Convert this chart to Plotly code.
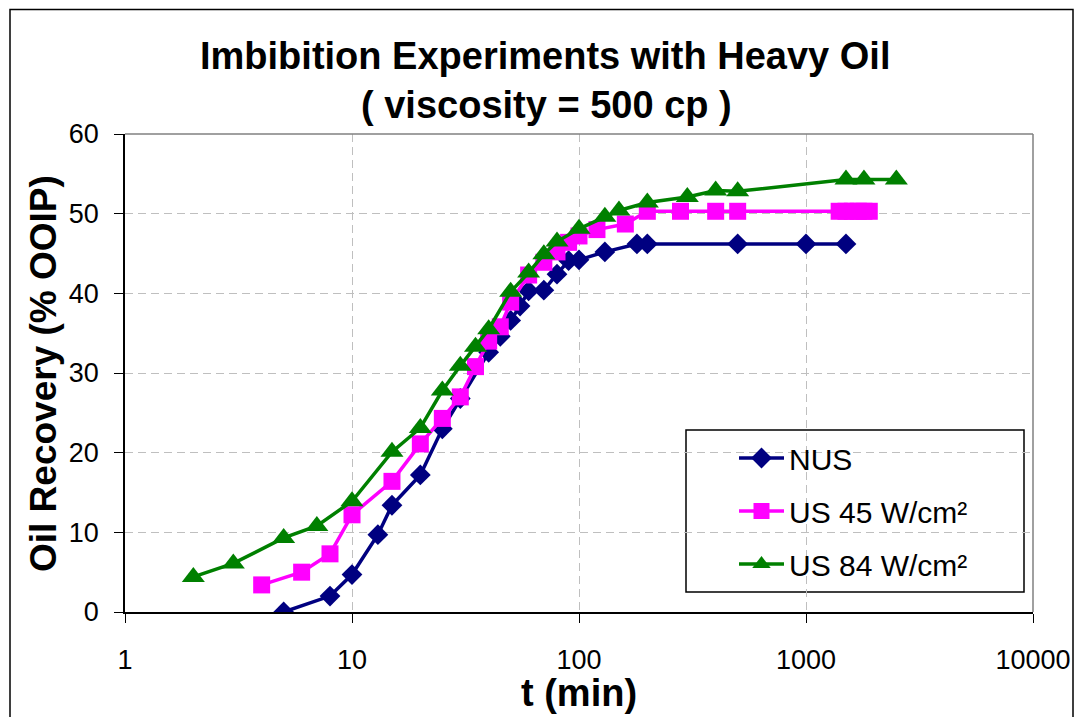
import plotly.graph_objects as go


# ==========================
# DATA
# ==========================

nus_t = [5, 8, 10, 13, 15, 20, 25, 30, 40, 45, 50, 55, 60, 70, 80, 90, 100,
         130, 180, 200, 500, 1000, 1500]
nus_rec = [0.0, 2.0, 4.7, 9.7, 13.4, 17.2, 23.0, 26.8, 32.6, 34.6, 36.6, 38.4,
           40.3, 40.4, 42.4, 44.1, 44.2, 45.2, 46.2, 46.2, 46.2, 46.2, 46.2]

us45_t = [4, 6, 8, 10, 15, 20, 25, 30, 35, 40, 45, 50, 60, 70, 80, 90, 100,
          120, 160, 200, 280, 400, 500, 1400, 1500, 1600, 1700, 1800, 1900]
us45_rec = [3.4, 5.0, 7.3, 12.2, 16.4, 21.1, 24.3, 27.0, 30.8, 34.0, 35.8, 38.9,
            42.3, 43.9, 45.2, 46.4, 47.2, 48.0, 48.7, 50.3, 50.3, 50.3, 50.3,
            50.3, 50.3, 50.3, 50.3, 50.3, 50.3]

us84_t = [2, 3, 5, 7, 10, 15, 20, 25, 30, 35, 40, 50, 60, 70, 80, 100, 130,
          150, 200, 300, 400, 500, 1500, 1800, 2500]
us84_rec = [4.4, 6.1, 9.3, 10.8, 13.9, 20.1, 23.1, 27.8, 30.9, 33.3, 35.5, 40.2,
            42.6, 44.9, 46.5, 48.1, 49.6, 50.4, 51.4, 52.1, 52.9, 52.8, 54.3,
            54.3, 54.3]

x_ticks = [1, 10, 100, 1000, 10000]
x_tick_text = ["1", "10", "100", "1000", "10000"]

FONT = "Arial, Liberation Sans, sans-serif"


# ==========================
# HELPERS (screen pixel -> paper)
# ==========================

OFF = 8  # page margin around the plot div
L, R, T, B = 125 - OFF, 1033 - OFF, 134 - OFF, 612 - OFF


def px(x):
    return (x - OFF - L) / (R - L)


def py(y):
    return (B - (y - OFF)) / (B - T)


# ==========================
# FIGURE
# ==========================

fig = go.Figure()

series = [
    ("NUS", nus_t, nus_rec, "#000080", "diamond", 16),
    ("US 45 W/cm²", us45_t, us45_rec, "#FF00FF", "square", 17),
    ("US 84 W/cm²", us84_t, us84_rec, "#008000", "triangle-up", 20),
]

for name, t, rec, color, symbol, size in series:
    fig.add_trace(
        go.Scatter(
            x=t,
            y=rec,
            name=name,
            legendgroup=name,
            mode="lines+markers",
            line=dict(color=color, width=3.5),
            marker=dict(color=color, symbol=symbol, size=size),
        )
    )


fig.update_xaxes(
    type="log",
    range=[0, 4],
    tickvals=x_ticks,
    ticktext=x_tick_text,
    ticks="outside",
    ticklen=9,
    tickcolor="black",
    ticklabelstandoff=14,
    tickfont=dict(family=FONT, size=27, color="black"),
    showline=True,
    linecolor="black",
    linewidth=1.5,
    showgrid=True,
    gridcolor="#BFBFBF",
    griddash="8px,5px",
    gridwidth=1,
    zeroline=False,
)

fig.update_yaxes(
    range=[0, 60],
    dtick=10,
    ticks="outside",
    ticklen=9,
    tickcolor="black",
    ticklabelstandoff=10,
    tickfont=dict(family=FONT, size=27, color="black"),
    showline=True,
    linecolor="black",
    linewidth=1.5,
    showgrid=True,
    gridcolor="#BFBFBF",
    griddash="8px,5px",
    gridwidth=1,
    zeroline=False,
)


annotations = [
    dict(text="<b>Imbibition Experiments with Heavy Oil</b>",
         x=px(545), y=py(56), font=dict(size=38)),
    dict(text="<b>( viscosity = 500 cp )</b>",
         x=px(546), y=py(105), font=dict(size=38)),
    dict(text="<b>t (min)</b>",
         x=px(579), y=py(693), font=dict(size=38)),
    dict(text="<b>Oil Recovery (% OOIP)</b>",
         x=px(43), y=py(374), font=dict(size=37), textangle=-90),
]

for a in annotations:
    a.update(xref="paper", yref="paper", showarrow=False,
             xanchor="center", yanchor="middle")
    a["font"].update(family=FONT, color="black")


shapes = [
    # figure border
    dict(type="rect", xref="paper", yref="paper",
         x0=px(10), x1=px(1073), y0=py(730), y1=py(9.5),
         line=dict(color="black", width=1.5), layer="below"),
    # plot area top / right edges
    dict(type="line", xref="paper", yref="paper",
         x0=0, x1=1, y0=1, y1=1, line=dict(color="#808080", width=1.5)),
    dict(type="line", xref="paper", yref="paper",
         x0=1, x1=1, y0=0, y1=1, line=dict(color="#808080", width=1.5)),
    # legend box
    dict(type="rect", xref="paper", yref="paper",
         x0=px(686), x1=px(1024), y0=py(592), y1=py(430),
         line=dict(color="black", width=1.5), fillcolor="white",
         layer="below"),
]


fig.update_layout(
    width=1083,
    height=717,
    margin=dict(l=L, r=1083 - R, t=T, b=717 - B),
    paper_bgcolor="white",
    plot_bgcolor="rgba(0,0,0,0)",
    font=dict(family=FONT, color="black"),
    showlegend=True,
    legend=dict(
        x=px(734),
        y=py(432),
        xanchor="left",
        yanchor="top",
        bgcolor="rgba(0,0,0,0)",
        borderwidth=0,
        font=dict(family=FONT, size=30, color="black"),
        tracegroupgap=11,
        itemwidth=45,
    ),
    annotations=annotations,
    shapes=shapes,
)


fig.write_html("out.html")
